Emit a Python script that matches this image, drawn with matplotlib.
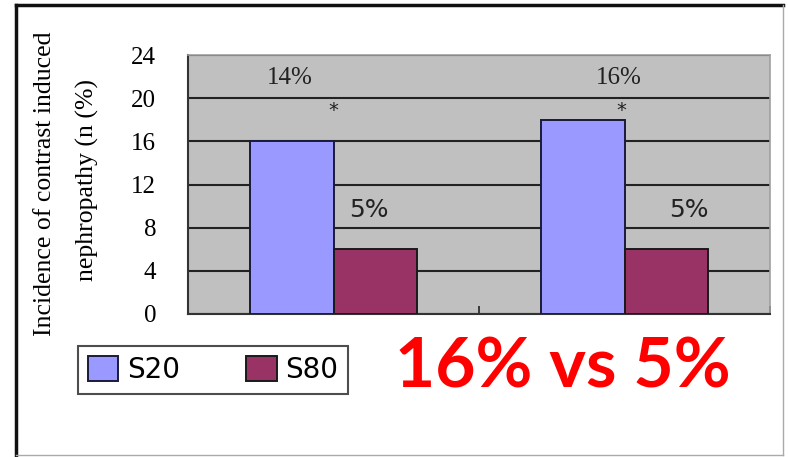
import matplotlib
matplotlib.use("Agg")
import matplotlib.pyplot as plt
import numpy as np
from matplotlib.lines import Line2D

groups = ["A", "B"]
series = ["S20", "S80"]
s20 = [16, 18]
s80 = [6, 6]
top_labels = ["14%", "16%"]
low_labels = ["5%", "5%"]
yticks = [0, 4, 8, 12, 16, 20, 24]
colors = ["#9999FF", "#993366"]

fig = plt.figure(figsize=(7.88, 4.57), dpi=100)
ax = fig.add_axes([188 / 788, 1 - 314 / 457, 582 / 788, 259 / 457])
ax.set_facecolor("#C0C0C0")

x = np.arange(len(groups))
w = 1 / 3.5
ax.bar(x - w / 2, s20, w, color=colors[0], edgecolor="#1a1a3a", linewidth=1.4, zorder=3, label=series[0])
ax.bar(x + w / 2, s80, w, color=colors[1], edgecolor="#1a1a1a", linewidth=1.4, zorder=3, label=series[1])

ax.set_xlim(-0.5, 1.5)
ax.set_ylim(0, 24)
ax.set_yticks(yticks)
ax.set_yticklabels([str(v) for v in yticks], family="Liberation Serif", fontsize=18)
ax.yaxis.grid(True, color="#222222", linewidth=1.5, zorder=1)
ax.tick_params(axis="y", length=0, pad=23)
ax.set_xticks([0.5, 1.5])
ax.set_xticklabels([])
ax.tick_params(axis="x", direction="in", length=6, width=1.2, color="#222222")
for s in ["top", "right"]:
    ax.spines[s].set_color("#a0a0a0")
    ax.spines[s].set_linewidth(1.2)
ax.spines["left"].set_color("#333333")
ax.spines["left"].set_linewidth(1.5)
ax.spines["bottom"].set_color("#333333")
ax.spines["bottom"].set_linewidth(1.5)

# percentages above the groups and significance stars
for i in range(len(groups)):
    ax.text(x[i] - 0.15 + 0.13 * i, 21.9, top_labels[i], ha="center", va="center",
            family="Liberation Serif", fontsize=18, color="#222222")
    ax.text(x[i] - 0.01 * i, 18.9, "*", ha="center", va="center",
            family="DejaVu Sans", fontsize=14, color="#222222")
    ax.text(x[i] + 0.12 + 0.1 * i, 9.6, low_labels[i], ha="center", va="center",
            family="DejaVu Sans", fontsize=18, color="#222222")

fig.text(45 / 788, 1 - 184 / 457, "Incidence of contrast induced", rotation=90,
         ha="center", va="center", family="Liberation Serif", fontsize=18.5)
fig.text(87 / 788, 1 - 180 / 457, "nephropathy (n (%)", rotation=90,
         ha="center", va="center", family="Liberation Serif", fontsize=18.5)

leg = ax.legend(loc="center", bbox_to_anchor=(213 / 788, 1 - 370 / 457),
                bbox_transform=fig.transFigure, ncol=2, frameon=True,
                fancybox=False, edgecolor="#222222", handlelength=1.1,
                handleheight=1.0, handletextpad=0.3, columnspacing=2.4,
                prop={"family": "DejaVu Sans", "size": 20}, borderpad=0.35)
leg.get_frame().set_linewidth(1.5)

fig.text(563 / 788, 1 - 368 / 457, "16% vs 5%", ha="center", va="center",
         family="Lato", fontweight="bold", fontsize=50, color="#FF0000")

# outer frame
fig.add_artist(Line2D([16 / 788, 783 / 788], [1 - 5 / 457] * 2, color="#111111", linewidth=2.5))
fig.add_artist(Line2D([16 / 788] * 2, [1 - 5 / 457, 0], color="#111111", linewidth=2.5))
fig.add_artist(Line2D([783 / 788] * 2, [1 - 5 / 457, 1 - 455 / 457], color="#aaaaaa", linewidth=1))
fig.add_artist(Line2D([16 / 788, 783 / 788], [1 - 455 / 457] * 2, color="#aaaaaa", linewidth=1))

fig.savefig("out.png", dpi=100)
